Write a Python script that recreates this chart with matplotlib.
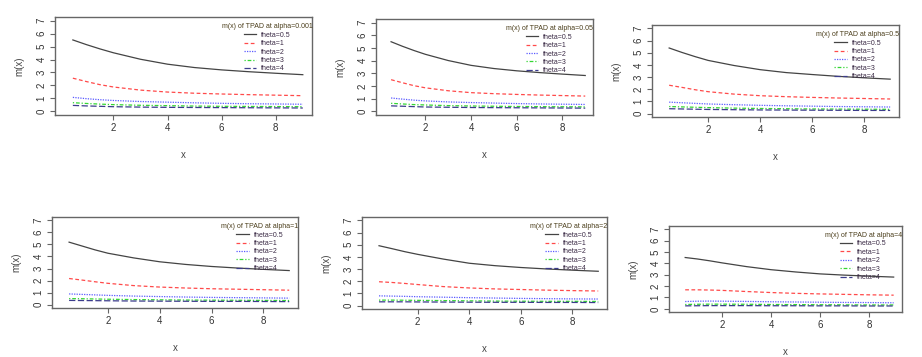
import matplotlib
matplotlib.use("Agg")
import matplotlib.pyplot as plt

plt.rcParams['font.family'] = ['Liberation Sans', 'DejaVu Sans']

x = [0.5, 1, 1.5, 2, 3, 4, 5, 6, 7, 8, 9]
thetas = ["theta=0.5", "theta=1", "theta=2", "theta=3", "theta=4"]
alphas = ["0.001", "0.05", "0.5", "1", "2", "4"]

m_alpha_0001 = [
    [5.51, 5.15, 4.82, 4.52, 4.02, 3.64, 3.38, 3.20, 3.06, 2.94, 2.83],
    [2.56, 2.30, 2.06, 1.88, 1.64, 1.49, 1.40, 1.34, 1.29, 1.25, 1.21],
    [1.08, 0.98, 0.90, 0.84, 0.76, 0.71, 0.66, 0.62, 0.59, 0.57, 0.55],
    [0.67, 0.61, 0.56, 0.52, 0.47, 0.44, 0.41, 0.39, 0.38, 0.37, 0.36],
    [0.46, 0.42, 0.39, 0.36, 0.33, 0.31, 0.30, 0.29, 0.28, 0.27, 0.26],
]
m_alpha_005 = [
    [5.49, 5.13, 4.80, 4.50, 4.01, 3.63, 3.38, 3.20, 3.06, 2.94, 2.83],
    [2.50, 2.26, 2.03, 1.86, 1.63, 1.48, 1.40, 1.34, 1.29, 1.25, 1.21],
    [1.06, 0.97, 0.89, 0.83, 0.75, 0.70, 0.66, 0.62, 0.59, 0.57, 0.55],
    [0.64, 0.59, 0.54, 0.51, 0.46, 0.43, 0.41, 0.39, 0.38, 0.37, 0.36],
    [0.44, 0.41, 0.38, 0.35, 0.33, 0.31, 0.30, 0.29, 0.28, 0.27, 0.26],
]
m_alpha_05 = [
    [5.39, 5.02, 4.68, 4.37, 3.95, 3.61, 3.37, 3.21, 3.06, 2.94, 2.83],
    [2.33, 2.15, 1.96, 1.80, 1.60, 1.47, 1.39, 1.33, 1.28, 1.24, 1.20],
    [0.94, 0.89, 0.84, 0.79, 0.73, 0.68, 0.64, 0.61, 0.58, 0.56, 0.54],
    [0.58, 0.55, 0.52, 0.49, 0.45, 0.42, 0.40, 0.38, 0.37, 0.36, 0.35],
    [0.40, 0.38, 0.36, 0.34, 0.32, 0.30, 0.29, 0.28, 0.27, 0.26, 0.26],
]
m_alpha_1 = [
    [5.19, 4.87, 4.55, 4.27, 3.88, 3.56, 3.34, 3.17, 3.04, 2.93, 2.83],
    [2.17, 2.04, 1.90, 1.77, 1.58, 1.46, 1.38, 1.32, 1.28, 1.24, 1.20],
    [0.89, 0.85, 0.81, 0.77, 0.71, 0.67, 0.63, 0.60, 0.58, 0.56, 0.54],
    [0.50, 0.49, 0.47, 0.45, 0.42, 0.40, 0.38, 0.37, 0.36, 0.35, 0.34],
    [0.35, 0.34, 0.33, 0.32, 0.30, 0.29, 0.28, 0.27, 0.27, 0.26, 0.25],
]
m_alpha_2 = [
    [4.92, 4.68, 4.43, 4.21, 3.82, 3.48, 3.28, 3.13, 3.01, 2.91, 2.82],
    [1.96, 1.90, 1.82, 1.73, 1.56, 1.45, 1.37, 1.32, 1.27, 1.23, 1.20],
    [0.80, 0.78, 0.76, 0.73, 0.69, 0.65, 0.62, 0.59, 0.57, 0.55, 0.54],
    [0.45, 0.45, 0.44, 0.43, 0.41, 0.39, 0.37, 0.36, 0.35, 0.35, 0.34],
    [0.31, 0.31, 0.31, 0.30, 0.29, 0.28, 0.27, 0.27, 0.26, 0.26, 0.25],
]
m_alpha_4 = [
    [4.51, 4.38, 4.22, 4.04, 3.71, 3.44, 3.24, 3.07, 2.96, 2.87, 2.79],
    [1.67, 1.67, 1.65, 1.62, 1.52, 1.43, 1.36, 1.31, 1.27, 1.23, 1.20],
    [0.64, 0.67, 0.68, 0.67, 0.65, 0.62, 0.60, 0.58, 0.56, 0.55, 0.53],
    [0.38, 0.40, 0.41, 0.41, 0.40, 0.38, 0.37, 0.36, 0.35, 0.34, 0.34],
    [0.26, 0.27, 0.28, 0.28, 0.28, 0.27, 0.27, 0.26, 0.26, 0.25, 0.25],
]
panels = [m_alpha_0001, m_alpha_005, m_alpha_05, m_alpha_1, m_alpha_2, m_alpha_4]

W, H = 922, 357
# axes boxes in pixels: left, top, right, bottom
boxes = [
    (55, 17, 312, 115),
    (376, 19, 593, 115),
    (652, 25, 899, 117),
    (52, 217, 298, 308),
    (362, 217, 607, 309),
    (669, 226, 902, 312),
]

styles = [
    dict(color='#444444', ls='-'),
    dict(color='#ff4a4a', ls=(0, (3, 2))),
    dict(color='#5a5aff', ls=(0, (1, 1))),
    dict(color='#33d633', ls=(0, (1, 1.5, 3, 1.5))),
    dict(color='#3c3c8c', ls=(0, (5, 2))),
]

fig = plt.figure(figsize=(W / 100, H / 100), dpi=100)
for (l, t, r, b), data, a in zip(boxes, panels, alphas):
    ax = fig.add_axes([l / W, 1 - b / H, (r - l) / W, (b - t) / H])
    for ys, lab, st in zip(data, thetas, styles):
        ax.plot(x, ys, lw=0.9, label=lab, **st)
    ax.set_xlim(-0.16, 9.34)
    ax.set_ylim(-0.28, 7.28)
    ax.set_xticks([2, 4, 6, 8])
    ax.set_yticks(range(0, 8))
    for s in ax.spines.values():
        s.set_color('#666666')
        s.set_linewidth(1.0)
    ax.tick_params(axis='both', colors='#666666', labelcolor='#333333',
                   labelsize=7, length=3.5, width=0.8, pad=2.5)
    for lbl in ax.get_yticklabels():
        lbl.set_rotation(90)
        lbl.set_va('center')
    ax.set_xlabel('x', fontsize=7, color='#444444', labelpad=12)
    ax.set_ylabel('m(x)', fontsize=7, color='#444444', labelpad=9)
    leg = ax.legend(loc='upper right', bbox_to_anchor=(1.015, 0.97), frameon=False,
                    fontsize=5, title='m(x) of TPAD at alpha=' + a, title_fontsize=5,
                    handlelength=1.8, handletextpad=0.7, labelspacing=0.2,
                    borderpad=0.5, borderaxespad=0.0)
    leg.get_title().set_color('#4a3d1a')
    for txt in leg.get_texts():
        txt.set_color('#3a2a45')

fig.savefig('out.png', dpi=100)
